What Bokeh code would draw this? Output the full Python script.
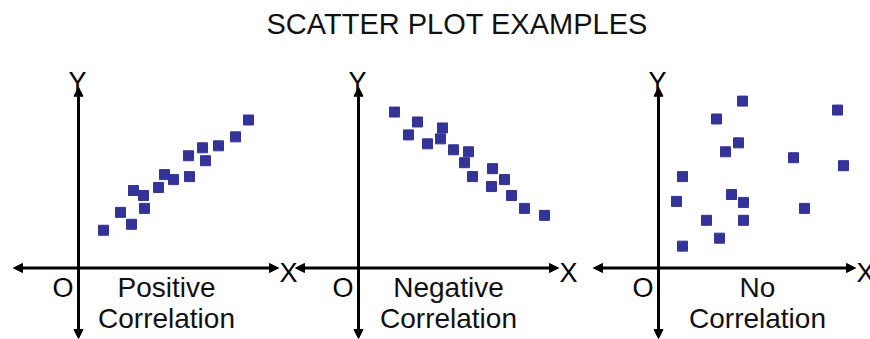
from bokeh.plotting import figure
from bokeh.models import Range1d, Arrow, NormalHead, ColumnDataSource
from bokeh.core.properties import value
from bokeh.embed import file_html
from bokeh.resources import INLINE

# ---------------- data ----------------
TITLE = "SCATTER PLOT EXAMPLES"

POS_X = [25, 42, 53, 55, 65, 66, 80, 86, 95, 111, 110, 124, 127, 140, 157, 170]
POS_Y = [38, 56, 44, 78, 73, 60, 81, 94, 89, 92, 113, 121, 108, 123, 132, 149]

NEG_X = [36, 59, 50, 69, 84, 82, 95, 110, 106, 114, 134, 146, 133, 153, 166, 186]
NEG_Y = [157, 147, 134, 125, 141, 130, 119, 117, 106, 92, 100, 89, 82, 73, 60, 53]

NONE_X = [84, 58, 179, 80, 67, 135, 185, 24, 18, 73, 85, 146, 48, 85, 61, 24]
NONE_Y = [168, 150, 159, 126, 117, 111, 103, 92, 67, 74, 66, 60, 48, 48, 30, 22]

CAPTION_TOP = ["Positive", "Negative", "No"]
CAPTION_BOTTOM = ["Correlation", "Correlation", "Correlation"]
AXIS_NAMES = ["X", "Y", "O"]

SERIES = [(POS_X, POS_Y), (NEG_X, NEG_Y), (NONE_X, NONE_Y)]

# ---------------- layout ----------------
W, H = 870, 339
PAGE_LEFT, PAGE_TOP = 0, 0
FRAME_TOP = 42              # page y of the frame's top (below the title)
ORIGIN_Y = 267              # page y of the x axes
ORIGINS_X = [78, 358, 658]  # page x of each panel's y axis
X_EXTENTS = [(-65, 200), (-63, 200), (-65, 197)]
Y_EXTENT = (-71, 182)
CAPTION_X = [88, 90, 99]

FONT = "Liberation Sans"
DOT = "#333399"

p = figure(width=W, height=H, output_backend="svg", toolbar_location=None,
           x_axis_location=None, y_axis_location=None,
           x_range=Range1d(PAGE_LEFT, PAGE_LEFT + W),
           y_range=Range1d(ORIGIN_Y - (PAGE_TOP + H), ORIGIN_Y - FRAME_TOP),
           min_border=0, title=TITLE)
p.grid.visible = False
p.outline_line_color = None
p.background_fill_color = "white"
p.border_fill_color = "white"
p.title.align = "left"
p.title.offset = 266
p.title.text_font = FONT
p.title.text_font_style = "normal"
p.title.text_font_size = "29px"
p.title.text_color = "#111111"

for i, ox in enumerate(ORIGINS_X):
    name = f"panel{i}"
    p.extra_x_ranges[name] = Range1d(PAGE_LEFT - ox, PAGE_LEFT + W - ox)

    x0, x1 = X_EXTENTS[i]
    for (xs, ys, xe, ye) in [(x0, 0, x1, 0), (0, Y_EXTENT[0], 0, Y_EXTENT[1])]:
        p.add_layout(Arrow(x_start=xs, y_start=ys, x_end=xe, y_end=ye,
                           x_range_name=name, line_width=3, line_color="black",
                           start=NormalHead(size=9, fill_color="black", line_color="black"),
                           end=NormalHead(size=9, fill_color="black", line_color="black")))

    xs, ys = SERIES[i]
    p.scatter(xs, ys, x_range_name=name, marker="square", size=10,
              fill_color=DOT, line_color=DOT)

    # axis letters
    lbl = ColumnDataSource(dict(x=[x1 + 1, -1, -5], y=[-5, 187, -20], t=AXIS_NAMES,
                                align=["left", "center", "right"]))
    p.text(x="x", y="y", text="t", source=lbl, x_range_name=name,
           text_align="align", text_baseline="alphabetic",
           text_font=value(FONT), text_font_size="27px", text_color="black")

    cap = ColumnDataSource(dict(x=[CAPTION_X[i], CAPTION_X[i]], y=[-20, -51],
                                t=[CAPTION_TOP[i], CAPTION_BOTTOM[i]]))
    p.text(x="x", y="y", text="t", source=cap, x_range_name=name,
           text_align="center", text_baseline="alphabetic",
           text_font=value(FONT), text_font_size="28px", text_color="#111111")

open("out.html", "w").write(file_html(p, INLINE))
